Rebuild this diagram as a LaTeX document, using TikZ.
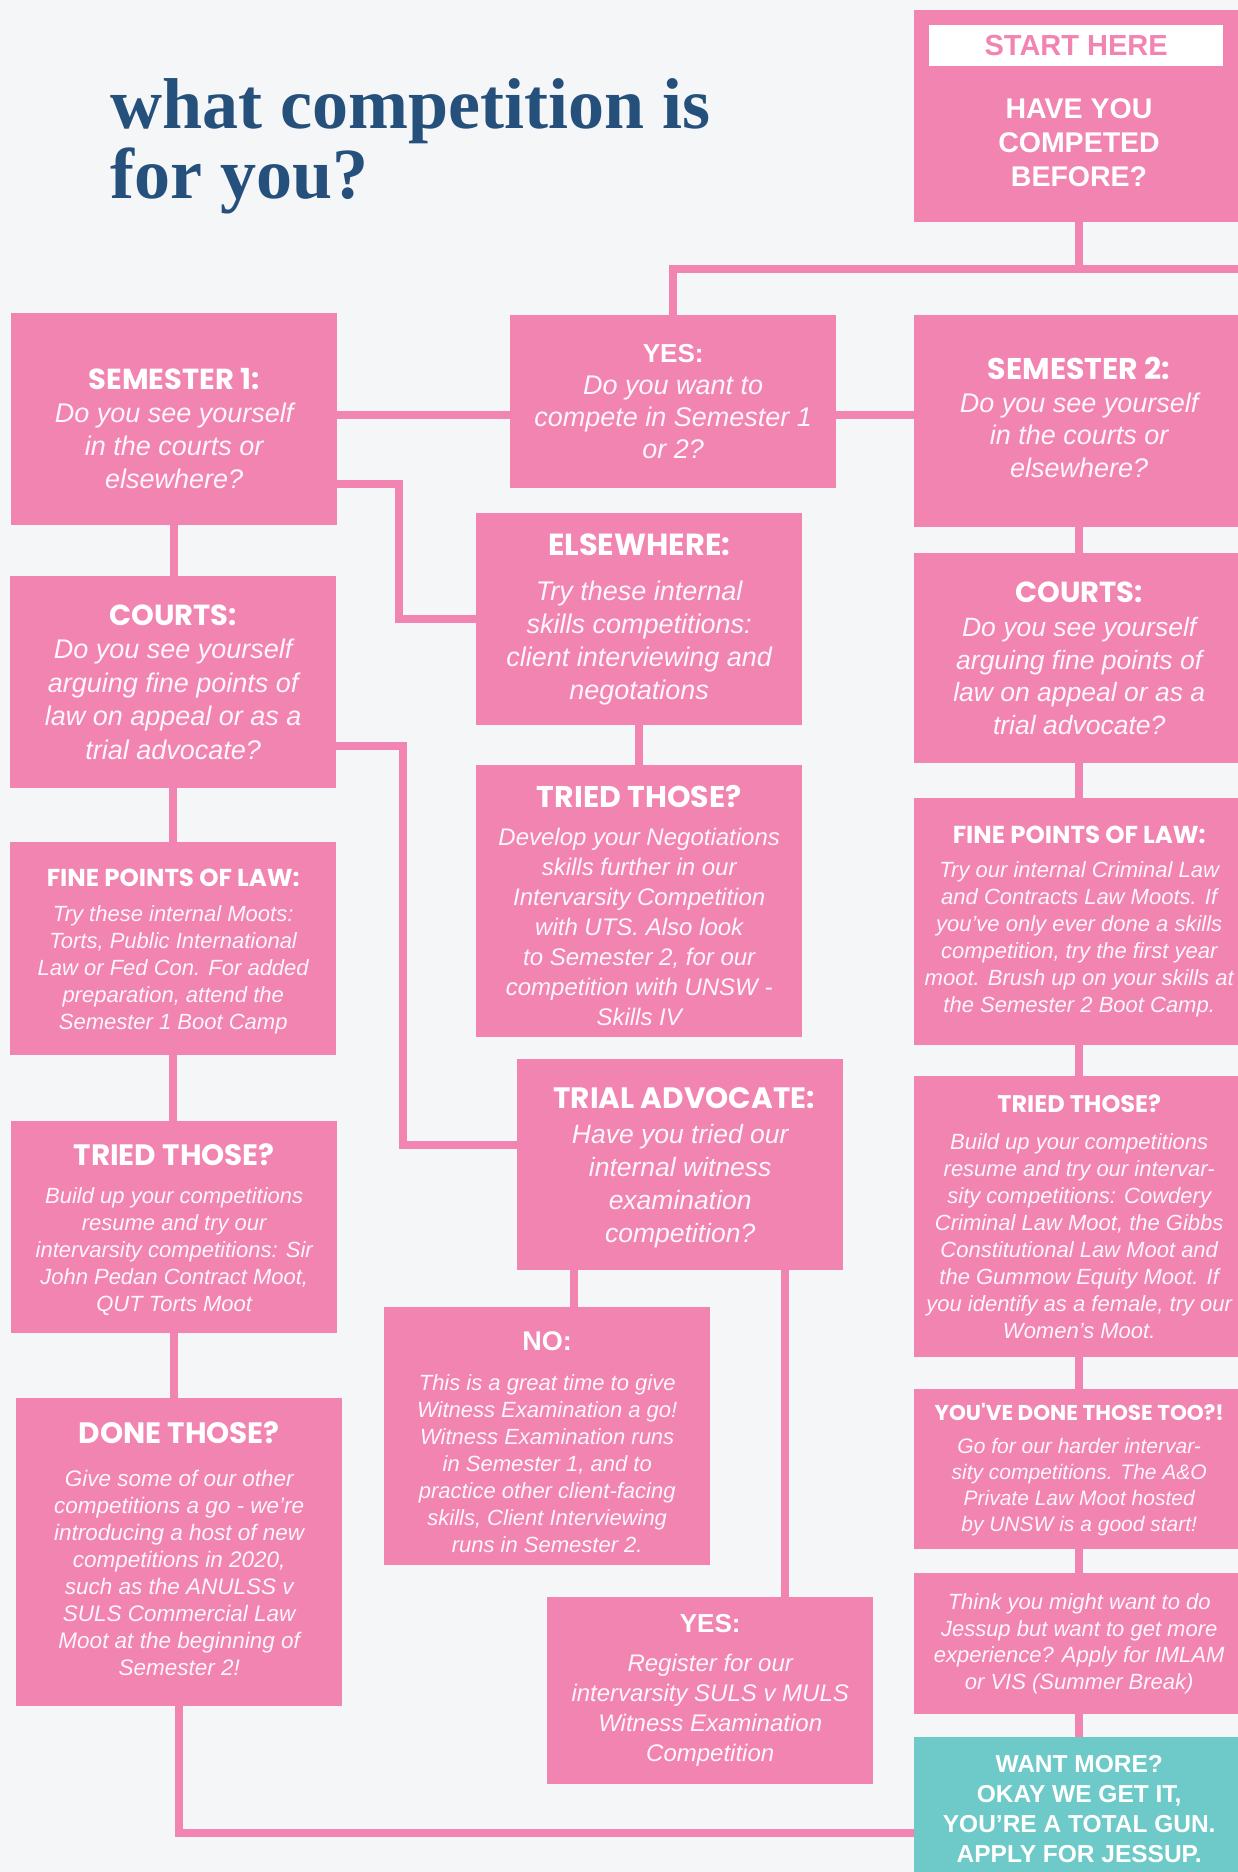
\documentclass[tikz,border=0pt]{standalone}
\usepackage{fontspec}
\setmainfont{Liberation Sans}
\newfontfamily\headfam{Poppins}
\newfontfamily\titlefam{Liberation Serif}
\definecolor{boxpink}{RGB}{241,132,177}
\definecolor{boxteal}{RGB}{110,201,201}
\definecolor{titleblue}{RGB}{38,80,124}
\definecolor{pagebg}{RGB}{244,246,247}
\tikzset{panel/.style={fill=boxpink,inner sep=0pt,align=center,text=white!93!boxpink,anchor=north west,minimum width=326pt},link/.style={draw=boxpink,line width=8pt}}

\begin{document}
\begin{tikzpicture}[x=1pt,y=-1pt]
\path[use as bounding box] (0,0) rectangle (1238,1872);
\clip (0,0) rectangle (1238,1872);
\fill[pagebg] (0,0) rectangle (1238,1872);
\node[anchor=north west,inner sep=0pt,align=left,text=titleblue,font=\titlefam\bfseries\fontsize{72}{70}\selectfont] (title) at (110,78) {what competition is\\for you?};
% right column
\node[panel,minimum width=330pt,minimum height=212pt] (start) at (914,10) {};
\node[fill=white,inner sep=0pt,minimum width=294pt,minimum height=41pt,anchor=north west,text=boxpink,font=\bfseries\fontsize{29}{29}\selectfont] (starttag) at (929,25) {START HERE};
\node[anchor=center,inner sep=0pt,align=center,text=white,font=\bfseries\fontsize{28.5}{34}\selectfont] (startq) at (1079,143) {HAVE YOU\\COMPETED\\BEFORE?};
\node[panel,minimum width=330pt,minimum height=212pt,font=\itshape\fontsize{27}{32.5}\selectfont] (sem2) at (914,315) {{\color{white}\headfam\upshape\bfseries\fontsize{30}{30}\selectfont SEMESTER 2:}\\Do you see yourself\\in the courts or\\elsewhere?\rule[-8pt]{0pt}{8pt}};
\node[panel,minimum width=330pt,minimum height=210pt,font=\itshape\fontsize{26.5}{32.5}\selectfont] (courts2) at (914,553) {{\color{white}\headfam\upshape\bfseries\fontsize{29}{29}\selectfont COURTS:}\\[2pt]Do you see yourself\\arguing fine points of\\law on appeal or as a\\trial advocate?};
\node[panel,minimum width=330pt,minimum height=247pt,font=\itshape\fontsize{22}{27}\selectfont] (finelaw2) at (914,798) {{\color{white}\headfam\upshape\bfseries\fontsize{24.5}{24.5}\selectfont FINE POINTS OF LAW:}\\[7pt]Try our internal Criminal Law\\and Contracts Law Moots. If\\you've only ever done a skills\\competition, try the first year\\moot. Brush up on your skills at\\the Semester 2 Boot Camp.};
\node[panel,minimum width=330pt,minimum height=281pt,font=\itshape\fontsize{22}{27}\selectfont] (tried2) at (914,1076) {{\color{white}\headfam\upshape\bfseries\fontsize{24}{24}\selectfont TRIED THOSE?}\\[10pt]Build up your competitions\\resume and try our intervar-\\sity competitions: Cowdery\\Criminal Law Moot, the Gibbs\\Constitutional Law Moot and\\the Gummow Equity Moot. If\\you identify as a female, try our\\Women's Moot.};
\node[panel,minimum width=330pt,minimum height=160pt,font=\itshape\fontsize{21}{26}\selectfont] (youve) at (914,1389) {{\color{white}\headfam\upshape\bfseries\fontsize{21.5}{21.5}\selectfont YOU'VE DONE THOSE TOO?!}\\[7pt]Go for our harder intervar-\\sity competitions. The A\&O\\Private Law Moot hosted\\by UNSW is a good start!};
\node[panel,minimum width=330pt,minimum height=141pt,font=\itshape\fontsize{22}{26.5}\selectfont] (think) at (914,1573) {Think you might want to do\\Jessup but want to get more\\experience? Apply for IMLAM\\or VIS (Summer Break)};
\node[panel,fill=boxteal,text=white,minimum width=330pt,minimum height=143pt,font=\bfseries\fontsize{24.5}{30}\selectfont] (want) at (914,1737) {WANT MORE?\\OKAY WE GET IT,\\YOU'RE A TOTAL GUN.\\APPLY FOR JESSUP.};
% middle column
\node[panel,minimum height=173pt,font=\itshape\fontsize{27}{32}\selectfont] (yes) at (510,315) {{\color{white}\upshape\bfseries\fontsize{26}{26}\selectfont YES:}\\Do you want to\\compete in Semester 1\\or 2?};
\node[panel,minimum height=212pt,font=\itshape\fontsize{27}{33}\selectfont] (elsewhere) at (476,513) {{\color{white}\headfam\upshape\bfseries\fontsize{30.5}{30.5}\selectfont ELSEWHERE:}\\[12pt]Try these internal\\skills competitions:\\client interviewing and\\negotations};
\node[panel,minimum height=272pt,font=\itshape\fontsize{24}{30}\selectfont] (triedneg) at (476,765) {{\color{white}\headfam\upshape\bfseries\fontsize{30}{30}\selectfont TRIED THOSE?\rule{0pt}{30pt}}\\[8pt]Develop your Negotiations\\skills further in our\\Intervarsity Competition\\with UTS. Also look\\to Semester 2, for our\\competition with UNSW -\\Skills IV};
\node[panel,minimum height=211pt,font=\itshape\fontsize{26.5}{33}\selectfont] (trial) at (517,1059) {{\color{white}\headfam\upshape\bfseries\fontsize{29.5}{29.5}\selectfont\hspace*{8pt}TRIAL ADVOCATE:\rule{0pt}{28pt}}\\[2pt]Have you tried our\\internal witness\\examination\\competition?};
\node[panel,minimum height=258pt,font=\itshape\fontsize{22}{27}\selectfont] (no) at (384,1307) {{\color{white}\upshape\bfseries\fontsize{27}{27}\selectfont NO:\rule{0pt}{30pt}}\\[13pt]This is a great time to give\\Witness Examination a go!\\Witness Examination runs\\in Semester 1, and to\\practice other client-facing\\skills, Client Interviewing\\runs in Semester 2.};
\node[panel,minimum height=187pt,font=\itshape\fontsize{24}{30}\selectfont] (yes2) at (547,1597) {{\color{white}\upshape\bfseries\fontsize{26}{26}\selectfont YES:}\\[9pt]Register for our\\intervarsity SULS v MULS\\Witness Examination\\Competition};
% left column
\node[panel,minimum height=212pt,font=\itshape\fontsize{27}{33}\selectfont] (sem1) at (11,313) {{\color{white}\headfam\upshape\bfseries\fontsize{29}{29}\selectfont SEMESTER 1:\rule{0pt}{39pt}}\\Do you see yourself\\in the courts or\\elsewhere?};
\node[panel,minimum height=212pt,font=\itshape\fontsize{27}{33.5}\selectfont] (courts1) at (10,576) {{\color{white}\headfam\upshape\bfseries\fontsize{29}{29}\selectfont COURTS:}\\Do you see yourself\\arguing fine points of\\law on appeal or as a\\trial advocate?};
\node[panel,minimum height=213pt,font=\itshape\fontsize{22}{27}\selectfont] (finelaw1) at (10,842) {{\color{white}\headfam\upshape\bfseries\fontsize{24.5}{24.5}\selectfont FINE POINTS OF LAW:\rule{0pt}{24pt}}\\[8pt]Try these internal Moots:\\Torts, Public International\\Law or Fed Con. For added\\preparation, attend the\\Semester 1 Boot Camp};
\node[panel,minimum height=212pt,font=\itshape\fontsize{22}{27}\selectfont] (tried1) at (11,1121) {{\color{white}\headfam\upshape\bfseries\fontsize{29.5}{29.5}\selectfont TRIED THOSE?\rule{0pt}{26pt}}\\[11pt]Build up your competitions\\resume and try our\\intervarsity competitions: Sir\\John Pedan Contract Moot,\\QUT Torts Moot};
\node[panel,minimum height=308pt,font=\itshape\fontsize{22.5}{27}\selectfont] (done) at (16,1398) {{\color{white}\headfam\upshape\bfseries\fontsize{29.5}{29.5}\selectfont DONE THOSE?}\\[16pt]Give some of our other\\competitions a go - we're\\introducing a host of new\\competitions in 2020,\\such as the ANULSS v\\SULS Commercial Law\\Moot at the beginning of\\Semester 2!\rule[-8pt]{0pt}{8pt}};
% connectors
\coordinate (offright) at (1250,269);
\draw[link] (start.south) -- (start.south |- offright);
\draw[link] (offright) -| (yes.north);
\draw[link] ([yshift=4pt]sem1.east) -- ([yshift=4pt]sem1.east -| yes.west);
\draw[link] ([yshift=4pt]sem1.east -| yes.east) -- ([yshift=4pt]sem1.east -| sem2.west);
\draw[link] ([yshift=-65pt]sem1.east) -- ++(62,0) |- (elsewhere.west);
\draw[link] (sem1.south) -- (sem1.south |- courts1.north);
\draw[link] (courts1.south) -- (courts1.south |- finelaw1.north);
\draw[link] (finelaw1.south) -- (finelaw1.south |- tried1.north);
\draw[link] (tried1.south) -- (tried1.south |- done.north);
\draw[link] (done.south) |- ([yshift=-24.5pt]want.west);
\draw[link] ([yshift=-64pt]courts1.east) -- ++(67,0) |- ([yshift=19.5pt]trial.west);
\draw[link] (elsewhere.south) -- (elsewhere.south |- triedneg.north);
\draw[link] ([xshift=-106pt]trial.south) -- ([xshift=-106pt]trial.south |- no.north);
\draw[link] ([xshift=105pt]trial.south) -- ([xshift=105pt]trial.south |- yes2.north);
\draw[link] (sem2.south) -- (sem2.south |- courts2.north);
\draw[link] (courts2.south) -- (courts2.south |- finelaw2.north);
\draw[link] (finelaw2.south) -- (finelaw2.south |- tried2.north);
\draw[link] (tried2.south) -- (tried2.south |- youve.north);
\draw[link] (youve.south) -- (youve.south |- think.north);
\draw[link] (think.south) -- (think.south |- want.north);
\end{tikzpicture}
\end{document}
